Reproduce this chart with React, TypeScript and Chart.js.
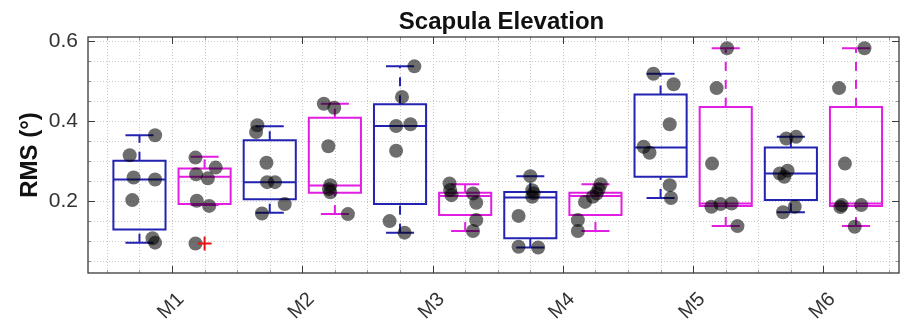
import React, { useEffect, useRef } from "react";
import { Chart, registerables } from "chart.js";

Chart.register(...registerables);

// ---------- data ----------
const categories = ["M1", "M2", "M3", "M4", "M5", "M6"];
const yTicks = [0.2, 0.4, 0.6];
const titleText = "Scapula Elevation";
const yLabel = "RMS (°)";

// blue boxes (first of each pair)
const blueMin = [0.096, 0.171, 0.121, 0.084, 0.208, 0.172];
const blueQ1 = [0.129, 0.205, 0.1925, 0.107, 0.261, 0.2025];
const blueMed = [0.254, 0.2475, 0.388, 0.209, 0.334, 0.269];
const blueQ3 = [0.301, 0.3525, 0.4425, 0.223, 0.467, 0.334];
const blueMax = [0.365, 0.3875, 0.5375, 0.2625, 0.519, 0.361];

// magenta boxes (second of each pair)
const magMin = [0.19, 0.1675, 0.125, 0.125, 0.1375, 0.1375];
const magQ1 = [0.1925, 0.221, 0.165, 0.165, 0.1875, 0.1875];
const magMed = [0.261, 0.239, 0.213, 0.213, 0.194, 0.194];
const magQ3 = [0.282, 0.409, 0.221, 0.221, 0.436, 0.436];
const magMax = [0.311, 0.444, 0.242, 0.242, 0.583, 0.583];

// outliers (magenta group only)
const magOutlier = [0.094, null, null, null, null, null];

// individual subject values
const bluePts = [
  [0.365, 0.315, 0.259, 0.254, 0.2025, 0.107, 0.096],
  [0.39, 0.373, 0.296, 0.2475, 0.2475, 0.1925, 0.169],
  [0.5375, 0.461, 0.388, 0.3925, 0.326, 0.15, 0.121],
  [0.2625, 0.2275, 0.211, 0.163, 0.0858, 0.084, 0.22],
  [0.519, 0.4925, 0.3925, 0.336, 0.321, 0.24, 0.208],
  [0.361, 0.357, 0.269, 0.276, 0.261, 0.186, 0.172],
];
const blueJitter = [
  [0.24, -0.15, -0.09, 0.24, -0.11, 0.2, 0.24],
  [-0.19, -0.21, -0.05, -0.04, 0.08, 0.23, -0.12],
  [0.22, 0.03, -0.06, 0.16, -0.06, -0.16, 0.07],
  [0, 0.03, 0.03, -0.18, -0.18, 0.12, 0.05],
  [-0.11, 0.2, 0.14, -0.26, -0.17, 0.14, 0.16],
  [0.08, -0.07, -0.17, -0.05, -0.1, 0.06, -0.12],
];
const magPts = [
  [0.309, 0.284, 0.267, 0.257, 0.2008, 0.188, 0.094],
  [0.444, 0.434, 0.3375, 0.24, 0.23, 0.222, 0.1675],
  [0.244, 0.228, 0.215, 0.219, 0.196, 0.1525, 0.125],
  [0.2425, 0.23, 0.219, 0.211, 0.198, 0.1525, 0.125],
  [0.583, 0.483, 0.294, 0.186, 0.1925, 0.194, 0.1375],
  [0.583, 0.483, 0.294, 0.19, 0.19, 0.185, 0.136],
];
const magJitter = [
  [-0.14, 0.17, -0.13, 0.05, -0.12, 0.07, -0.14],
  [-0.17, -0.01, -0.1, -0.07, -0.09, -0.07, 0.2],
  [-0.24, -0.23, -0.21, 0.12, 0.17, 0.17, 0.12],
  [0.08, 0.05, 0.02, -0.04, -0.16, -0.27, -0.27],
  [0.02, -0.14, -0.21, -0.22, -0.08, 0.09, 0.18],
  [0.13, -0.26, -0.17, -0.22, 0.08, -0.24, -0.02],
];

// ---------- style ----------
const FONT = "'Liberation Sans', Arial, Helvetica, sans-serif";
const BLUE = "#2323b2";
const MAGENTA = "#e21ee2";
const TEXT = "#333333";
const BOX_W = 0.8;
const CAP_W = 0.4;

const posBlue = (i: number) => 2 * i + 1;
const posMag = (i: number) => 2 * i + 2;
const tickPos = categories.map((_, i) => 2 * i + 1.5);

function boxDatasets(center: number, mn: number, q1: number, med: number, q3: number, mx: number, color: string) {
  const l = center - BOX_W / 2;
  const r = center + BOX_W / 2;
  const cl = center - CAP_W / 2;
  const cr = center + CAP_W / 2;
  const gap = { x: center, y: null as any };
  const common = {
    type: "scatter" as const,
    showLine: true,
    pointRadius: 0,
    pointHoverRadius: 0,
    borderColor: color,
    borderWidth: 2,
    backgroundColor: "transparent",
    fill: false,
    order: 5,
  };
  return [
    {
      ...common,
      borderJoinStyle: "miter" as const,
      borderCapStyle: "square" as const,
      data: [
        { x: l, y: q1 }, { x: r, y: q1 }, { x: r, y: q3 }, { x: l, y: q3 }, { x: l, y: q1 },
        gap,
        { x: l, y: med }, { x: r, y: med },
        gap,
        { x: cl, y: mx }, { x: cr, y: mx },
        gap,
        { x: cl, y: mn }, { x: cr, y: mn },
      ],
    },
    { ...common, borderDash: [9, 9], data: [{ x: center, y: mn }, { x: center, y: q1 }] },
    { ...common, borderDash: [9, 9], data: [{ x: center, y: q3 }, { x: center, y: mx }] },
  ];
}

const axesPlugin = {
  id: "matlabAxes",
  beforeDatasetsDraw(chart: any) {
    const { ctx, chartArea: a, scales } = chart;
    const xs = scales.x;
    const ys = scales.y;
    ctx.save();
    ctx.strokeStyle = "#c9c9c9";
    ctx.lineWidth = 1;
    ctx.setLineDash([1, 2]);
    for (let v = 0.5; v <= 12.5 + 1e-9; v += 0.5) {
      const px = Math.round(xs.getPixelForValue(v)) + 0.5;
      ctx.beginPath();
      ctx.moveTo(px, a.top);
      ctx.lineTo(px, a.bottom);
      ctx.stroke();
    }
    for (let k = 1; k <= 12; k++) {
      const v = k * 0.05;
      const py = Math.round(ys.getPixelForValue(v)) + 0.5;
      ctx.beginPath();
      ctx.moveTo(a.left, py);
      ctx.lineTo(a.right, py);
      ctx.stroke();
    }
    ctx.restore();
  },
  afterDatasetsDraw(chart: any) {
    const { ctx, chartArea: a, scales } = chart;
    const xs = scales.x;
    const ys = scales.y;
    ctx.save();
    ctx.setLineDash([]);
    ctx.lineWidth = 1;
    for (let v = 0.5; v <= 12.5 + 1e-9; v += 0.5) {
      const isMajor = tickPos.some((t) => Math.abs(t - v) < 1e-6);
      const len = isMajor ? 7 : 3;
      ctx.strokeStyle = isMajor ? "#3a3a3a" : "#9a9a9a";
      const px = Math.round(xs.getPixelForValue(v)) + 0.5;
      ctx.beginPath();
      ctx.moveTo(px, a.bottom);
      ctx.lineTo(px, a.bottom - len);
      ctx.moveTo(px, a.top);
      ctx.lineTo(px, a.top + len);
      ctx.stroke();
    }
    for (let k = 1; k <= 12; k++) {
      const v = k * 0.05;
      const isMajor = yTicks.some((t) => Math.abs(t - v) < 1e-6);
      const len = isMajor ? 7 : 3;
      ctx.strokeStyle = isMajor ? "#3a3a3a" : "#9a9a9a";
      const py = Math.round(ys.getPixelForValue(v)) + 0.5;
      ctx.beginPath();
      ctx.moveTo(a.left, py);
      ctx.lineTo(a.left + len, py);
      ctx.moveTo(a.right, py);
      ctx.lineTo(a.right - len, py);
      ctx.stroke();
    }
    ctx.strokeStyle = "#3a3a3a";
    ctx.lineWidth = 1.3;
    ctx.strokeRect(a.left, a.top, a.right - a.left, a.bottom - a.top);
    ctx.restore();
  },
  afterDraw(chart: any) {
    const { ctx, chartArea: a, scales } = chart;
    const xs = scales.x;
    ctx.save();
    ctx.fillStyle = "#111";
    ctx.font = `bold 24px ${FONT}`;
    ctx.textAlign = "center";
    ctx.textBaseline = "alphabetic";
    ctx.fillText(titleText, (a.left + a.right) / 2 + 8, 29);
    ctx.fillStyle = TEXT;
    ctx.font = `20px ${FONT}`;
    ctx.textBaseline = "middle";
    categories.forEach((c, i) => {
      const px = xs.getPixelForValue(tickPos[i]) - 1;
      ctx.save();
      ctx.translate(px, a.bottom + 33);
      ctx.rotate(-Math.PI / 4);
      ctx.fillText(c, 0, 0);
      ctx.restore();
    });
    ctx.restore();
  },
};

export default function App() {
  const ref = useRef<HTMLCanvasElement | null>(null);

  useEffect(() => {
    document.body.style.margin = "0";
    const canvas = ref.current;
    if (!canvas) return;

    const pointData: { x: number; y: number }[] = [];
    categories.forEach((_, i) => {
      bluePts[i].forEach((v, j) => pointData.push({ x: posBlue(i) + blueJitter[i][j], y: v }));
      magPts[i].forEach((v, j) => pointData.push({ x: posMag(i) + magJitter[i][j], y: v }));
    });
    const outlierData: { x: number; y: number }[] = [];
    magOutlier.forEach((v, i) => {
      if (v !== null) outlierData.push({ x: posMag(i), y: v });
    });

    const datasets: any[] = [
      {
        type: "scatter",
        data: outlierData,
        pointStyle: "cross",
        pointRadius: 7,
        borderColor: "#ee1111",
        borderWidth: 2,
        backgroundColor: "#ee1111",
        order: 0,
      },
      {
        type: "scatter",
        data: pointData,
        pointRadius: 7,
        pointStyle: "circle",
        backgroundColor: "rgba(0,0,0,0.57)",
        borderWidth: 0,
        order: 1,
      },
    ];
    categories.forEach((_, i) => {
      datasets.push(...boxDatasets(posBlue(i), blueMin[i], blueQ1[i], blueMed[i], blueQ3[i], blueMax[i], BLUE));
      datasets.push(...boxDatasets(posMag(i), magMin[i], magQ1[i], magMed[i], magQ3[i], magMax[i], MAGENTA));
    });

    const chart = new Chart(canvas, {
      type: "scatter",
      data: { datasets },
      plugins: [axesPlugin],
      options: {
        responsive: false,
        animation: false,
        events: [],
        layout: { padding: { left: 0, right: 1, top: 37, bottom: 0 } },
        plugins: {
          legend: { display: false },
          title: { display: false },
          tooltip: { enabled: false },
        },
        scales: {
          x: {
            type: "linear",
            min: 0.21,
            max: 12.66,
            grid: { display: false, drawTicks: false },
            border: { display: false },
            ticks: { display: false },
            afterFit: (s: any) => {
              s.height = 54;
            },
          },
          y: {
            type: "linear",
            min: 0.02,
            max: 0.611,
            grid: { display: false, drawTicks: false },
            border: { display: false },
            afterBuildTicks: (s: any) => {
              s.ticks = yTicks.map((v) => ({ value: v }));
            },
            ticks: {
              padding: 10,
              color: TEXT,
              font: { family: FONT, size: 21 },
              callback: (v: any) => Number(v).toFixed(1),
            },
            title: {
              display: true,
              text: yLabel,
              color: "#111",
              font: { family: FONT, size: 24, weight: "bold" },
              padding: { top: 16, bottom: 0 },
            },
            afterFit: (s: any) => {
              s.width = 88;
            },
          },
        },
      },
    });
    return () => chart.destroy();
  }, []);

  return (
    <div style={{ width: 908, height: 327 }}>
      <canvas ref={ref} width={908} height={327} style={{ display: "block" }} />
    </div>
  );
}
